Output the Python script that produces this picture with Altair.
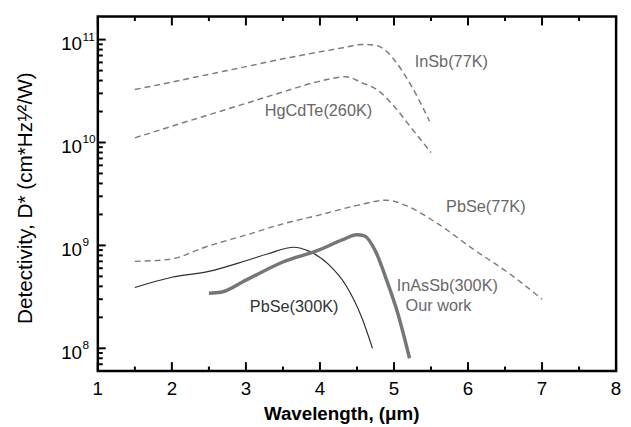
import altair as alt
import pandas as pd

# ---- data ----
insb_x = [1.5, 2.0, 2.5, 3.0, 3.5, 4.0, 4.3, 4.57, 4.75, 4.9, 5.0, 5.23, 5.48]
insb_y = [3.27e10, 3.87e10, 4.6e10, 5.46e10, 6.5e10, 7.6e10, 8.3e10, 8.97e10, 8.8e10, 7.7e10, 6.4e10, 3.6e10, 1.61e10]

hgcdte_x = [1.5, 2.0, 2.5, 3.0, 3.5, 4.0, 4.35, 4.57, 4.8, 5.0, 5.25, 5.5]
hgcdte_y = [1.11e10, 1.44e10, 1.86e10, 2.4e10, 3.1e10, 3.95e10, 4.35e10, 3.8e10, 3.15e10, 2.25e10, 1.34e10, 8.0e9]

pbse77_x = [1.5, 1.95, 2.5, 3.0, 3.5, 4.0, 4.5, 4.9, 5.2, 5.55, 6.08, 6.57, 7.0]
pbse77_y = [7.0e8, 7.3e8, 9.9e8, 1.26e9, 1.62e9, 1.98e9, 2.45e9, 2.75e9, 2.37e9, 1.7e9, 9.1e8, 5.25e8, 3.0e8]

pbse300_x = [1.5, 2.0, 2.5, 3.0, 3.3, 3.65, 3.85, 4.12, 4.35, 4.57, 4.71]
pbse300_y = [3.9e8, 4.9e8, 5.6e8, 7.1e8, 8.3e8, 9.6e8, 8.8e8, 6.5e8, 4.1e8, 1.95e8, 1.0e8]

inassb_x = [2.5, 2.66, 3.0, 3.5, 4.0, 4.3, 4.5, 4.6, 4.75, 4.9, 5.05, 5.21]
inassb_y = [3.43e8, 3.5e8, 4.6e8, 6.9e8, 9.1e8, 1.13e9, 1.27e9, 1.24e9, 8.8e8, 4.6e8, 2.2e8, 8.0e7]

gray_labels = ["InSb(77K)", "HgCdTe(260K)", "PbSe(77K)", "InAsSb(300K)", "Our work"]
gray_label_x = [5.28, 3.253, 5.703, 5.036, 5.156]
gray_label_y = [6.05e10, 2.01e10, 2.37e9, 4.05e8, 2.6e8]

dark_labels = ["PbSe(300K)"]
dark_label_x = [3.053]
dark_label_y = [2.53e8]

x_major = [1, 2, 3, 4, 5, 6, 7, 8]
x_minor = [1.5, 2.5, 3.5, 4.5, 5.5, 6.5, 7.5]
x_tick_labels = ["1", "2", "3", "4", "5", "6", "7", "8"]
y_major = [1e8, 1e9, 1e10, 1e11]
y_exp = ["8", "9", "10", "11"]
y_minor = [7e7, 8e7, 9e7] + [m * 10 ** e for e in (8, 9, 10) for m in range(2, 10)]

x_title = "Wavelength, (\u03bcm)"
y_title = "Detectivity, D*  (cm*Hz\u00b9\u2044\u00b2/W)"

# ---- chart ----
W, H = 525, 359
FONT = "Liberation Sans"
xsc = alt.Scale(domain=[1, 8], nice=False, zero=False)
ysc = alt.Scale(type="log", domain=[6.02e7, 1.673e11], nice=False)


def X(field):
    return alt.X(field, scale=xsc, axis=None)


def Y(field):
    return alt.Y(field, scale=ysc, axis=None)


def line(xs, ys, color, width, dash=None):
    kw = dict(color=color, strokeWidth=width, interpolate="monotone")
    if dash:
        kw["strokeDash"] = dash
    df = pd.DataFrame({"wl": xs, "d": ys})
    return alt.Chart(df).mark_line(**kw).encode(x=X("wl:Q"), y=Y("d:Q"))


DASH_C = "#7c7c7c"
layers = [
    line(insb_x, insb_y, DASH_C, 1.5, [6, 4]),
    line(hgcdte_x, hgcdte_y, DASH_C, 1.5, [6, 4]),
    line(pbse77_x, pbse77_y, DASH_C, 1.4, [6, 4]),
    line(pbse300_x, pbse300_y, "#2e2e2e", 1.2),
    line(inassb_x, inassb_y, "#767676", 3.5),
]


# inward ticks drawn as rules
def xticks(vals, length, top):
    df = pd.DataFrame({"v": vals})
    if top:
        yv, y2v = alt.value(0), alt.value(length)
    else:
        yv, y2v = alt.value(H), alt.value(H - length)
    return alt.Chart(df).mark_rule(color="black", strokeWidth=2).encode(
        x=X("v:Q"), y=yv, y2=y2v)


def yticks(vals, length):
    df = pd.DataFrame({"v": vals})
    return alt.Chart(df).mark_rule(color="black", strokeWidth=2).encode(
        y=Y("v:Q"), x=alt.value(0), x2=alt.value(length))


layers += [
    xticks(x_major, 9, False), xticks(x_minor, 4.5, False),
    xticks(x_major, 9, True), xticks(x_minor, 4.5, True),
    yticks(y_major, 8), yticks(y_minor, 5),
]

# tick labels
xlab = pd.DataFrame({"v": x_major, "t": x_tick_labels})
ylab = pd.DataFrame({"v": y_major, "base": ["10"] * len(y_major), "exp": y_exp})
layers += [
    alt.Chart(xlab).mark_text(align="center", baseline="alphabetic", fontSize=19,
                              font=FONT, color="black").encode(
        x=X("v:Q"), y=alt.value(H + 24.5), text="t:N"),
    alt.Chart(ylab).mark_text(align="right", baseline="alphabetic", fontSize=19,
                              font=FONT, color="black", dy=11).encode(
        y=Y("v:Q"), x=alt.value(-16), text="base:N"),
    alt.Chart(ylab).mark_text(align="left", baseline="alphabetic", fontSize=12,
                              font=FONT, color="black", dy=1).encode(
        y=Y("v:Q"), x=alt.value(-15.5), text="exp:N"),
]

# axis titles
layers += [
    alt.Chart(pd.DataFrame({"t": [x_title]})).mark_text(
        align="center", baseline="alphabetic", fontSize=19, font=FONT,
        fontWeight="bold", color="black").encode(
        x=alt.value(247), y=alt.value(H + 50), text="t:N"),
    alt.Chart(pd.DataFrame({"t": [y_title]})).mark_text(
        align="center", baseline="alphabetic", fontSize=21, font=FONT,
        color="black", angle=270).encode(
        x=alt.value(-67), y=alt.value(184), text="t:N"),
]

# curve annotations
glab = pd.DataFrame({"t": gray_labels, "x": gray_label_x, "y": gray_label_y})
dlab = pd.DataFrame({"t": dark_labels, "x": dark_label_x, "y": dark_label_y})
layers += [
    alt.Chart(glab).mark_text(align="left", baseline="middle", fontSize=16.5, font=FONT,
                              color="#686868").encode(
        x=X("x:Q"), y=Y("y:Q"), text="t:N"),
    alt.Chart(dlab).mark_text(align="left", baseline="middle", fontSize=16.5, font=FONT,
                              color="#333333").encode(
        x=X("x:Q"), y=Y("y:Q"), text="t:N"),
]

chart = alt.layer(*layers).properties(
    width=W, height=H,
    background="white",
    autosize=alt.AutoSizeParams(type="none"),
    padding={"left": 91, "top": 6, "right": 7, "bottom": 52},
).configure_view(stroke="black", strokeWidth=2.5)

chart.save("out.html", embed_options={"renderer": "svg", "actions": False})
